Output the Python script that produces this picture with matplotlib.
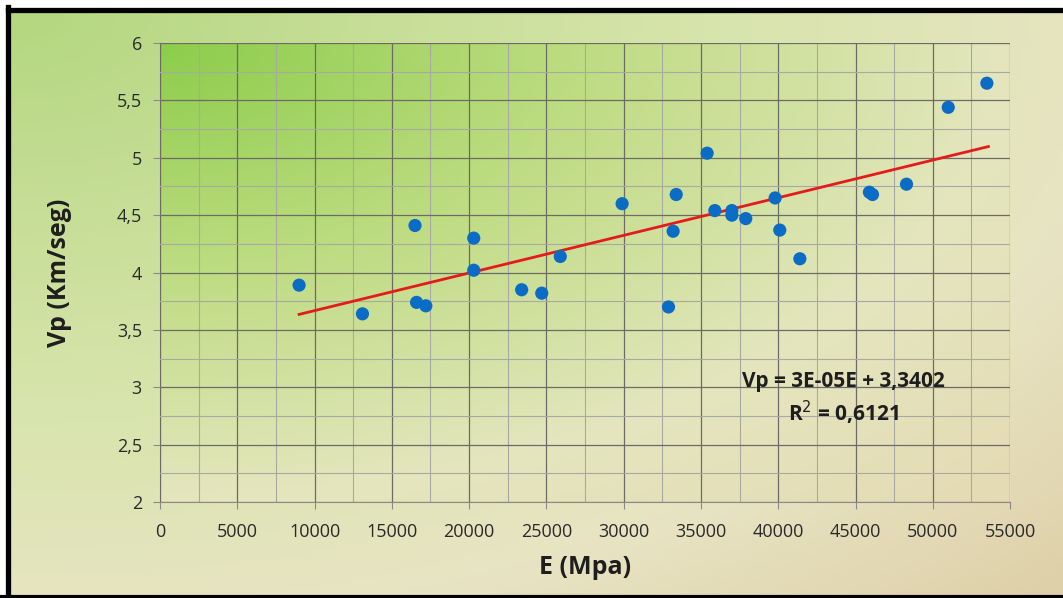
import numpy as np
import matplotlib.pyplot as plt
from matplotlib.ticker import MultipleLocator, FuncFormatter
from matplotlib.lines import Line2D

# E (Mpa) vs Vp (Km/seg)
E_mpa = [9000, 13100, 16500, 16600, 17200, 20300, 20300, 23400, 24700, 25900,
         29900, 32900, 33200, 33400, 35400, 35900, 37000, 37000, 37900, 39800,
         40100, 41400, 45900, 46100, 48300, 51000, 53500]
vp_kms = [3.89, 3.64, 4.41, 3.74, 3.71, 4.30, 4.02, 3.85, 3.82, 4.14,
          4.60, 3.70, 4.36, 4.68, 5.04, 4.54, 4.54, 4.50, 4.47, 4.65,
          4.37, 4.12, 4.70, 4.68, 4.77, 5.44, 5.65]
trend_slope = 3.28e-5
trend_intercept = 3.34
trend_range = [9000, 53600]
eq_text = 'Vp = 3E-05E + 3,3402'
r2_text = 'R$^2$ = 0,6121'

plt.rcParams['font.family'] = ['Open Sans', 'DejaVu Sans']

fig = plt.figure(figsize=(10.63, 5.98), dpi=100, facecolor='white')
W, H = 1063, 598


def gradient(h, w, stops, wx=1.0, wy=1.0):
    yy, xx = np.mgrid[0:1:h * 1j, 0:1:w * 1j]
    d = np.sqrt((xx * wx) ** 2 + (yy * wy) ** 2) / np.sqrt(wx ** 2 + wy ** 2)
    pos = [s[0] for s in stops]
    img = np.zeros((h, w, 3))
    for c in range(3):
        img[..., c] = np.interp(d, pos, [s[1][c] / 255 for s in stops])
    return img


# figure background inside the black frame (frame runs off right and bottom)
left, top = 10 / W, 1 - 12 / H
bg = fig.add_axes([left, 0, 1 - left, top], zorder=-2)
bg.imshow(gradient(120, 200, [(0.0, (180, 215, 128)), (0.45, (214, 228, 170)),
                              (0.75, (232, 228, 195)), (1.0, (222, 208, 168))]),
          aspect='auto', extent=[0, 1, 0, 1], origin='upper')
bg.set_xlim(0, 1)
bg.set_ylim(0, 1)
bg.axis('off')
fig.add_artist(Line2D([7.5 / W, 7.5 / W], [0, 1 - 7 / H], color='black', lw=3.8, solid_capstyle='projecting'))
fig.add_artist(Line2D([7.5 / W, 1], [1 - 9.5 / H, 1 - 9.5 / H], color='black', lw=3.8))
fig.add_artist(Line2D([0, 1], [1.5 / H, 1.5 / H], color='black', lw=3.0))

ax = fig.add_axes([0.1505, 0.1605, 0.7997, 0.7675])
ax.set_facecolor('none')
ax.imshow(gradient(120, 200, [(0.0, (140, 205, 75)), (0.35, (190, 220, 130)),
                              (0.7, (228, 230, 190)), (1.0, (228, 218, 180))]),
          aspect='auto', extent=[0, 55000, 2, 6], origin='upper', zorder=0)

ax.set_xlim(0, 55000)
ax.set_ylim(2, 6)
ax.xaxis.set_major_locator(MultipleLocator(5000))
ax.xaxis.set_minor_locator(MultipleLocator(2500))
ax.yaxis.set_major_locator(MultipleLocator(0.5))
ax.yaxis.set_minor_locator(MultipleLocator(0.25))
ax.yaxis.set_major_formatter(FuncFormatter(lambda v, p: f'{v:g}'.replace('.', ',')))

ax.grid(which='major', color='#6c6c64', lw=0.9, zorder=1)
ax.grid(which='minor', color='#a8aaa2', lw=0.8, zorder=1)
ax.set_axisbelow(False)
for side in ['top', 'right']:
    ax.spines[side].set_visible(False)
for side in ['left', 'bottom']:
    ax.spines[side].set_color('#8a8a86')
ax.tick_params(which='major', length=5, color='#8a8a86', labelsize=13, labelcolor='#2a2a2a')
ax.tick_params(axis='x', pad=10)
ax.tick_params(axis='y', pad=8)
ax.tick_params(which='minor', length=0)

ax.scatter(E_mpa, vp_kms, s=90, color='#0a6cc4', zorder=4, edgecolors='none')
tx = np.array(trend_range)
ax.plot(tx, trend_slope * tx + trend_intercept, color='#e41b1b', lw=2.0, zorder=3)

ax.text(44200, 3.05, eq_text, ha='center', va='center', fontsize=15, fontweight='bold', color='#1e1e1e', zorder=5)
ax.text(44200, 2.78, r2_text, ha='center', va='center', fontsize=15, fontweight='bold', color='#1e1e1e', zorder=5)

ax.set_xlabel('E (Mpa)', fontsize=18, fontweight='bold', color='#1e1e1e', labelpad=10)
ax.set_ylabel('Vp (Km/seg)', fontsize=18, fontweight='bold', color='#1e1e1e', labelpad=32)

fig.savefig('out.png', dpi=100, facecolor='white')
